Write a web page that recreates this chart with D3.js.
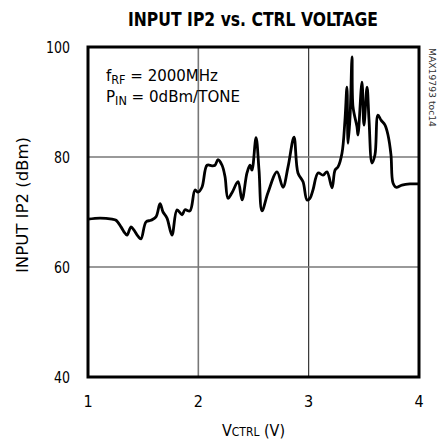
<html>
<head>
<script src="https://d3js.org/d3.v7.min.js"></script>
<style>
  body { margin: 0; background: #fff; }
  text { font-family: "Liberation Sans Narrow", "DejaVu Sans Condensed", "Liberation Sans", sans-serif; }
</style>
</head>
<body>
<div id="chart"></div>
<script>
// control voltage (V) and input IP2 (dBm)
const vctrl = [1.000, 1.109, 1.218, 1.254, 1.299, 1.326, 1.353, 1.390, 1.417, 1.453, 1.480, 1.526, 1.571, 1.616, 1.653, 1.680,
  1.716, 1.761, 1.807, 1.852, 1.879, 1.924, 1.970, 1.997, 2.033, 2.079, 2.124, 2.151, 2.178, 2.215, 2.242, 2.269,
  2.305, 2.360, 2.396, 2.441, 2.468, 2.486, 2.523, 2.550, 2.577, 2.631, 2.713, 2.767, 2.813, 2.867, 2.903, 2.949,
  2.985, 3.012, 3.039, 3.085, 3.130, 3.166, 3.212, 3.239, 3.266, 3.302, 3.329, 3.347, 3.357, 3.375, 3.393, 3.402,
  3.438, 3.447, 3.483, 3.501, 3.529, 3.547, 3.574, 3.601, 3.628, 3.656, 3.692, 3.719, 3.746, 3.764, 3.792, 3.846,
  3.918, 4.000];
const ip2 = [68.7, 68.9, 68.7, 68.5, 67.3, 66.4, 65.8, 67.3, 66.7, 65.6, 65.1, 68.2, 68.5, 69.1, 71.5, 70.0,
  68.9, 65.8, 70.4, 69.5, 70.4, 70.2, 74.0, 73.6, 74.5, 78.5, 78.4, 78.5, 79.5, 78.5, 76.4, 72.5,
  73.5, 75.5, 72.2, 77.1, 78.5, 77.6, 83.5, 77.6, 70.2, 73.5, 77.3, 74.5, 78.2, 83.6, 77.1, 75.5,
  72.2, 72.5, 74.0, 77.1, 76.7, 77.3, 74.4, 77.6, 78.2, 80.7, 86.7, 92.7, 82.5, 87.3, 98.2, 89.1,
  85.5, 84.0, 93.6, 85.8, 92.7, 86.7, 78.9, 80.4, 87.6, 86.7, 85.8, 84.0, 80.4, 75.3, 74.5, 74.9,
  75.1, 75.1];
const xTicks = [1, 2, 3, 4];
const yTicks = [40, 60, 80, 100];

const width = 440, height = 441;
const margin = {top: 47, right: 21, bottom: 64, left: 88};

const svg = d3.select("#chart").append("svg")
  .attr("width", width)
  .attr("height", height);

const x = d3.scaleLinear().domain([1, 4]).range([margin.left, width - margin.right]);
const y = d3.scaleLinear().domain([40, 100]).range([height - margin.bottom, margin.top]);

// grid
svg.selectAll(".gx").data([2, 3]).enter().append("line")
  .attr("x1", d => x(d)).attr("x2", d => x(d))
  .attr("y1", y(100)).attr("y2", y(40))
  .attr("stroke", (d, i) => i == 0 ? "#777" : "#222")
  .attr("stroke-width", (d, i) => i == 0 ? 1.6 : 1.1);
svg.selectAll(".gy").data([60, 80]).enter().append("line")
  .attr("x1", x(1)).attr("x2", x(4))
  .attr("y1", d => y(d)).attr("y2", d => y(d))
  .attr("stroke", "#777")
  .attr("stroke-width", 1.6);

// curve
const pts = vctrl.map((v, i) => [v, ip2[i]]);
svg.append("path")
  .datum(pts)
  .attr("fill", "none")
  .attr("stroke", "#000")
  .attr("stroke-width", 2.8)
  .attr("stroke-linejoin", "round")
  .attr("d", d3.line().x(d => x(d[0])).y(d => y(d[1])).curve(d3.curveCatmullRom.alpha(0.5)));

// frame
svg.append("rect")
  .attr("x", x(1)).attr("y", y(100))
  .attr("width", x(4) - x(1)).attr("height", y(40) - y(100))
  .attr("fill", "none").attr("stroke", "#000").attr("stroke-width", 3);

// tick labels
svg.selectAll(".xt").data(xTicks).enter().append("text")
  .attr("x", d => x(d)).attr("y", y(40) + 30)
  .attr("text-anchor", "middle")
  .attr("font-size", 16)
  .text(d => d);
svg.selectAll(".yt").data(yTicks).enter().append("text")
  .attr("x", 70).attr("y", d => y(d) + 6)
  .attr("text-anchor", "end")
  .attr("font-size", 16)
  .attr("textLength", d => d == 100 ? 24 : 16)
  .attr("lengthAdjust", "spacingAndGlyphs")
  .text(d => d);

// title
svg.append("text")
  .attr("x", 253).attr("y", 26)
  .attr("text-anchor", "middle")
  .attr("font-size", 19)
  .attr("font-weight", "bold")
  .attr("textLength", 250)
  .attr("lengthAdjust", "spacingAndGlyphs")
  .text("INPUT IP2 vs. CTRL VOLTAGE");

// axis titles
const xl = svg.append("text")
  .attr("x", 222).attr("y", 436)
  .attr("font-size", 16)
  .attr("textLength", 63)
  .attr("lengthAdjust", "spacingAndGlyphs");
xl.append("tspan").text("V");
xl.append("tspan").attr("font-size", 12).text("CTRL");
xl.append("tspan").text(" (V)");

svg.append("text")
  .attr("transform", "translate(28,205) rotate(-90)")
  .attr("text-anchor", "middle")
  .attr("font-size", 15)
  .attr("textLength", 136)
  .attr("lengthAdjust", "spacingAndGlyphs")
  .text("INPUT IP2 (dBm)");

// conditions
const t1 = svg.append("text").attr("x", 106).attr("y", 81).attr("font-size", 16)
  .attr("textLength", 112).attr("lengthAdjust", "spacingAndGlyphs");
t1.append("tspan").text("f");
t1.append("tspan").attr("font-size", 12).attr("dy", 3).text("RF");
t1.append("tspan").attr("dy", -3).text(" = 2000MHz");
const t2 = svg.append("text").attr("x", 106).attr("y", 102).attr("font-size", 16)
  .attr("textLength", 134).attr("lengthAdjust", "spacingAndGlyphs");
t2.append("tspan").text("P");
t2.append("tspan").attr("font-size", 12).attr("dy", 3).text("IN");
t2.append("tspan").attr("dy", -3).text(" = 0dBm/TONE");

// side label
svg.append("text")
  .attr("transform", "translate(429,48) rotate(90)")
  .attr("font-size", 9)
  .attr("fill", "#333")
  .attr("textLength", 79)
  .attr("lengthAdjust", "spacingAndGlyphs")
  .text("MAX19793 toc14");
</script>
</body>
</html>
